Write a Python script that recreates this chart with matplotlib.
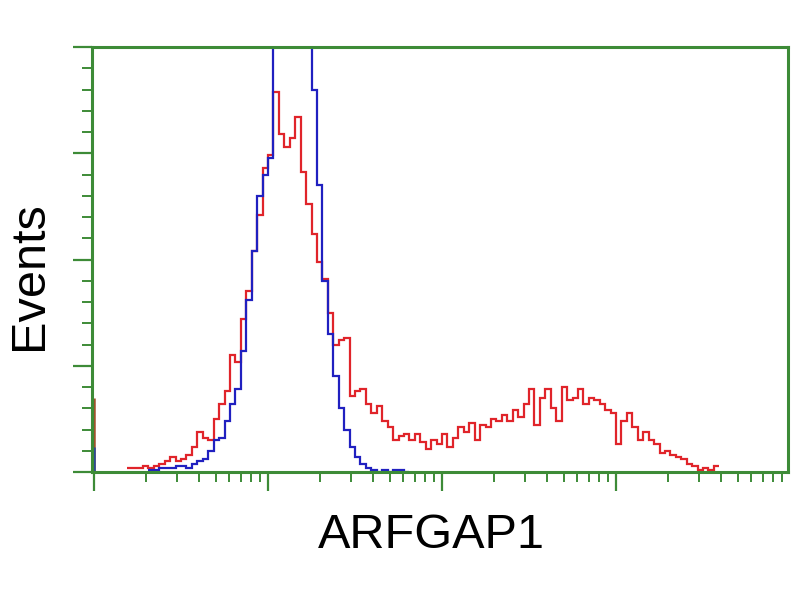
import matplotlib
matplotlib.use("Agg")
import matplotlib.pyplot as plt
import numpy as np
from matplotlib.ticker import LogLocator, MultipleLocator, NullFormatter

# histogram channels: 32 per decade, channel k covers 10**(k/32) .. 10**((k+1)/32)
bins_per_decade = 32

red_first = 6
red_counts = [2, 2, 2, 3, 2, 3, 4, 5, 7, 5,
              6, 8, 12, 19, 16, 15, 25, 32, 38, 55,
              52, 72, 85, 104, 121, 143, 149, 179, 159, 153,
              157, 167, 141, 126, 112, 99, 91, 75, 60, 62,
              63, 36, 38, 39, 32, 28, 31, 24, 21, 15,
              17, 18, 15, 18, 14, 11, 15, 13, 18, 12,
              16, 21, 19, 23, 15, 22, 21, 25, 24, 27,
              24, 29, 26, 32, 39, 22, 35, 39, 30, 24,
              40, 34, 35, 39, 32, 35, 34, 32, 29, 28,
              13, 24, 28, 21, 15, 19, 15, 13, 9, 10,
              8, 7, 6, 4, 3, 1, 2, 1, 3]

blue_first = 10
blue_counts = [1, 1, 2, 2, 2, 3, 3, 2, 4, 5,
               6, 10, 15, 16, 24, 32, 39, 57, 81, 104,
               130, 140, 148, 260, 290, 330, 350, 340, 310, 260,
               180, 135, 90, 65, 45, 30, 20, 12, 7, 4,
               2, 1, 0, 1, 0, 1, 1, 0]

# events piled up in the first channel
red_ch0 = 35
blue_ch0 = 12

green = "#3d8b37"

fig = plt.figure(figsize=(8, 6), dpi=100)
ax = fig.add_axes([92 / 800, 128 / 600, 696 / 800, 425 / 600])


def edges(first, n):
    return 10 ** (np.arange(first, first + n + 1) / bins_per_decade)


ax.stairs(red_counts, edges(red_first, len(red_counts)), color="#e0242a", lw=1.6, baseline=None)
ax.vlines(1, 0, red_ch0, color="#a0522d", lw=1.8)
ax.stairs(blue_counts, edges(blue_first, len(blue_counts)), color="#2020c0", lw=1.6, baseline=None)
ax.vlines(1, 0, blue_ch0, color="#2a4a9a", lw=1.8)

ax.set_xscale("log")
ax.set_xlim(10 ** (-2 / 174), 10 ** (694 / 174))
ax.set_ylim(0, 200)

ax.xaxis.set_major_locator(LogLocator(base=10, numticks=10))
ax.xaxis.set_minor_locator(LogLocator(base=10, subs=np.arange(2, 10), numticks=10))
ax.xaxis.set_major_formatter(NullFormatter())
ax.xaxis.set_minor_formatter(NullFormatter())
ax.yaxis.set_major_locator(MultipleLocator(50))
ax.yaxis.set_minor_locator(MultipleLocator(10))
ax.yaxis.set_major_formatter(NullFormatter())

for s in ax.spines.values():
    s.set_color(green)
    s.set_linewidth(2.2)
ax.tick_params(which="major", direction="out", length=14, width=1.6, color=green)
ax.tick_params(which="minor", direction="out", length=7, width=1.4, color=green)

fig.text(431 / 800, 1 - 548 / 600, "ARFGAP1", ha="center", va="baseline",
         fontsize=35, family="Liberation Sans")
fig.text(30 / 800, 1 - 276 / 600, "Events", ha="center", va="center", rotation=90,
         fontsize=35, family="Liberation Sans")

fig.savefig("out.png", dpi=100)
